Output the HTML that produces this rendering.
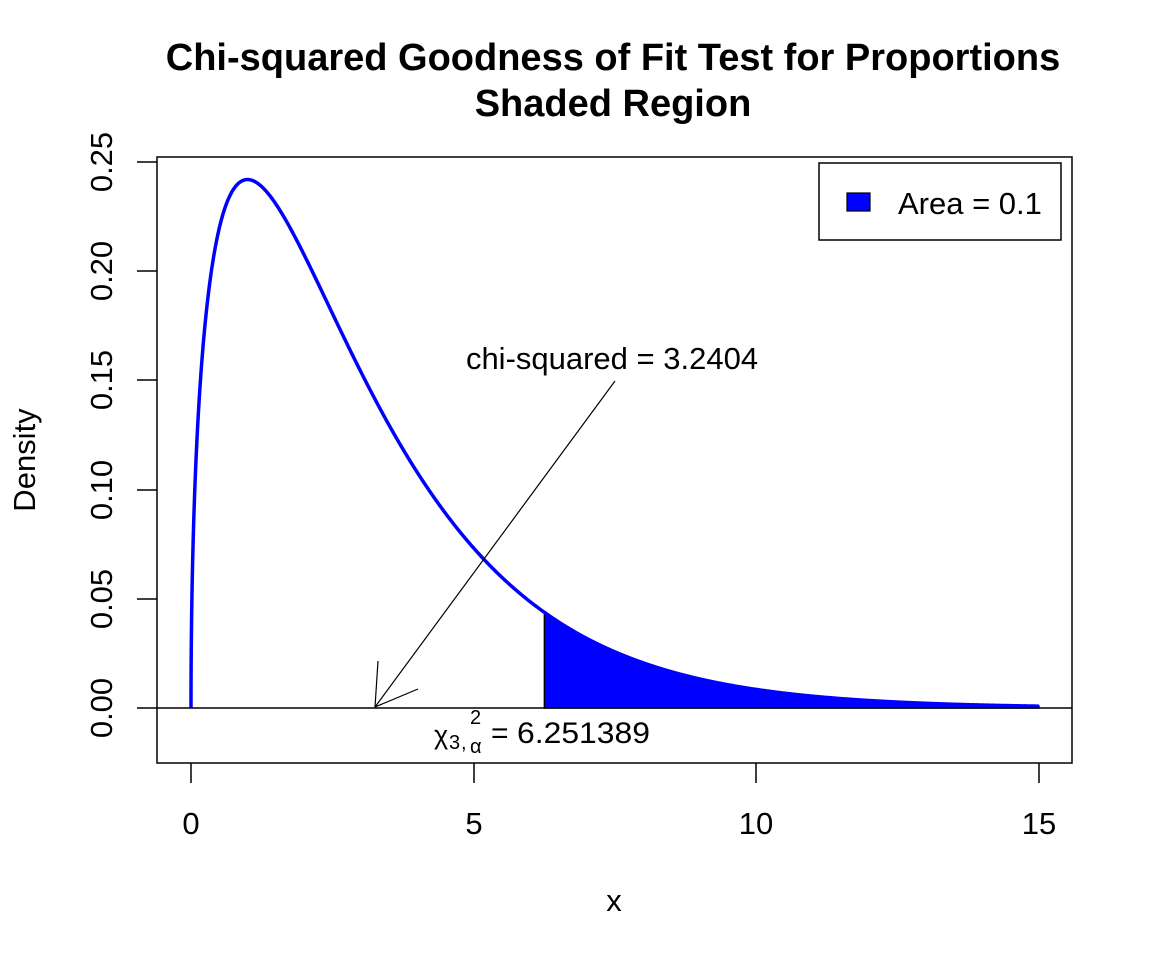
<!DOCTYPE html>
<html><head><meta charset="utf-8">
<style>
html,body{margin:0;padding:0;background:#fff;}
svg text{font-family:"Liberation Sans",Arial,sans-serif;fill:#000;}
</style></head>
<body>
<svg id="s" width="1152" height="960" viewBox="0 0 1152 960" xmlns="http://www.w3.org/2000/svg">
<rect width="1152" height="960" fill="#fff"/>
<text x="613" y="70" font-size="38" font-weight="bold" text-anchor="middle">Chi-squared Goodness of Fit Test for Proportions</text>
<text x="613" y="116" font-size="38" font-weight="bold" text-anchor="middle">Shaded Region</text>
<path id="shade" fill="#0000ff" stroke="#000" stroke-width="1.5"/>
<path id="curve" fill="none" stroke="#0000ff" stroke-width="3.5"/>
<line x1="157" y1="708" x2="1072" y2="708" stroke="#000" stroke-width="1.5"/>
<rect x="157" y="157" width="915" height="606" fill="none" stroke="#000" stroke-width="1.5"/>
<g stroke="#000" stroke-width="1.5">
<line x1="191" y1="763" x2="191" y2="783"/>
<line x1="474" y1="763" x2="474" y2="783"/>
<line x1="756" y1="763" x2="756" y2="783"/>
<line x1="1039" y1="763" x2="1039" y2="783"/>
<line x1="137" y1="708" x2="157" y2="708"/>
<line x1="137" y1="599" x2="157" y2="599"/>
<line x1="137" y1="490" x2="157" y2="490"/>
<line x1="137" y1="380" x2="157" y2="380"/>
<line x1="137" y1="271" x2="157" y2="271"/>
<line x1="137" y1="162" x2="157" y2="162"/>
</g>
<g font-size="31" text-anchor="middle">
<text x="191" y="834">0</text><text x="474" y="834">5</text><text x="756" y="834">10</text><text x="1039" y="834">15</text>
<text x="614" y="911">x</text>
<text transform="translate(112,708) rotate(-90)">0.00</text>
<text transform="translate(112,599) rotate(-90)">0.05</text>
<text transform="translate(112,490) rotate(-90)">0.10</text>
<text transform="translate(112,380) rotate(-90)">0.15</text>
<text transform="translate(112,271) rotate(-90)">0.20</text>
<text transform="translate(112,162) rotate(-90)">0.25</text>
<text transform="translate(35,460) rotate(-90)">Density</text>
</g>
<g stroke="#000" stroke-width="1.2">
<line x1="615" y1="381" x2="375" y2="707"/>
<line x1="375" y1="707" x2="378" y2="661"/>
<line x1="375" y1="707" x2="418" y2="689"/>
</g>
<text x="612" y="369" font-size="31" text-anchor="middle">chi-squared = 3.2404</text>
<text x="434" y="744" font-size="27">χ</text>
<text x="449" y="749" font-size="20">3</text>
<text x="461" y="749" font-size="20">,</text>
<text x="470" y="753" font-size="20">α</text>
<text x="470" y="724" font-size="20">2</text>
<text x="491" y="743" font-size="30">=</text>
<text x="517" y="743" font-size="30" textLength="133" lengthAdjust="spacingAndGlyphs">6.251389</text>
<rect x="819" y="163" width="242" height="77" fill="#fff" stroke="#000" stroke-width="1.5"/>
<rect x="847" y="193" width="23" height="18" fill="#0000ff" stroke="#000" stroke-width="1.2"/>
<text x="898" y="214" font-size="31">Area = 0.1</text>
</svg>
<script>
(function(){
function f(x){return x<=0?0:Math.sqrt(x)*Math.exp(-x/2)/2.5066283;}
function X(x){return 191+x*56.53;}
function Y(y){return 708-y*2184;}
var d="",i,x,n=1500;
for(i=0;i<=n;i++){x=15*Math.pow(i/n,1.6);d+=(i?"L":"M")+X(x).toFixed(2)+" "+Y(f(x)).toFixed(2);}
document.getElementById("curve").setAttribute("d",d);
var a=6.251389,s="M"+X(a)+" 708";
for(i=0;i<=400;i++){x=a+(15-a)*i/400;s+="L"+X(x).toFixed(2)+" "+Y(f(x)).toFixed(2);}
s+="L"+X(15)+" 708Z";
document.getElementById("shade").setAttribute("d",s);
})();
</script>
</body></html>
